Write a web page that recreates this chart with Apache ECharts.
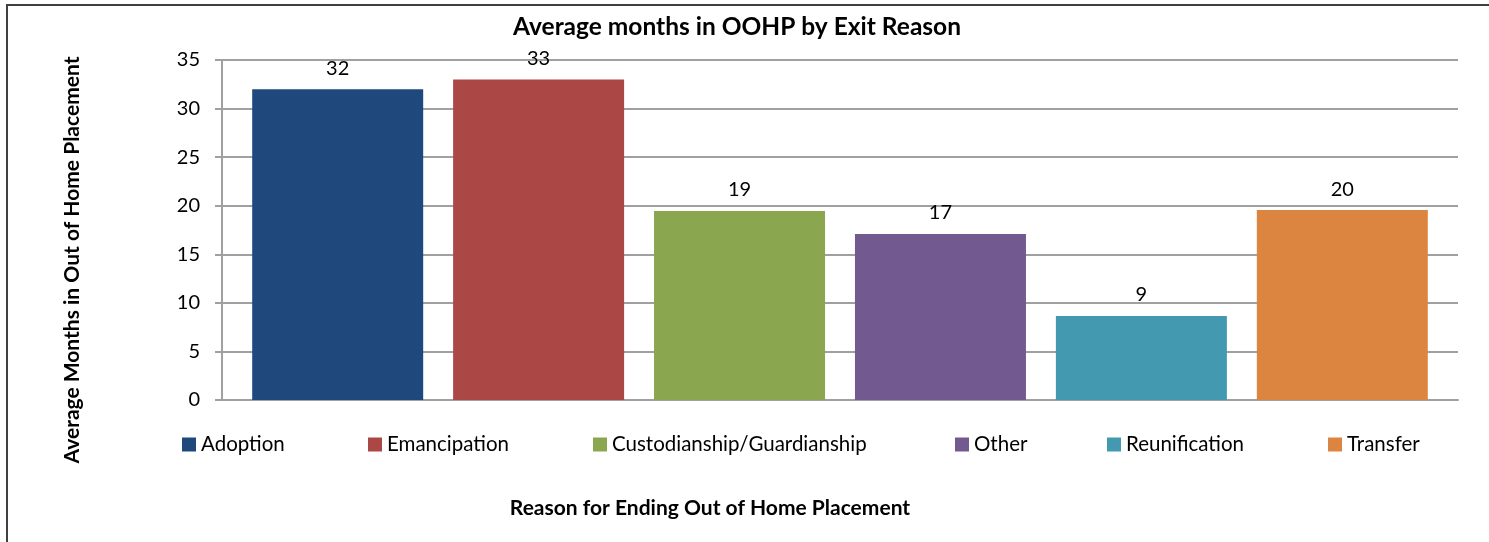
<!DOCTYPE html>
<html>
<head>
<meta charset="utf-8">
<script src="https://cdn.jsdelivr.net/npm/echarts@6/dist/echarts.min.js"></script>
<style>
html,body{margin:0;padding:0;background:#fff;}
#chart{width:1489px;height:542px;}
</style>
</head>
<body>
<div id="chart"></div>
<script>
var categories = ['Adoption', 'Emancipation', 'Custodianship/Guardianship', 'Other', 'Reunification', 'Transfer'];
var values = [32.0, 33.0, 19.46, 17.1, 8.65, 19.55];
var colors = ['#1F497D', '#AB4745', '#8AA64F', '#72598F', '#4399B0', '#DC8540'];
var yTicks = [0, 5, 10, 15, 20, 25, 30, 35];
var titleText = 'Average months in OOHP by Exit Reason';
var yTitle = 'Average Months in Out of Home Placement';
var xTitle = 'Reason for Ending Out of Home Placement';

var FONT = 'Lato, "Open Sans", sans-serif';
var legendLefts = [182, 368, 593, 955, 1107, 1328];

var chart = echarts.init(document.getElementById('chart'), null, {renderer: 'canvas'});

var series = categories.map(function (name, i) {
  return {
    name: name,
    type: 'bar',
    data: [values[i]],
    barWidth: 171,
    barGap: '17.5%',
    itemStyle: {color: colors[i]},
    label: {
      show: true,
      position: 'top',
      distance: 11,
      color: '#000',
      fontFamily: FONT,
      fontSize: 20,
      formatter: function (p) { return String(Math.round(p.value)); }
    },
    emphasis: {disabled: true}
  };
});

var legends = categories.map(function (name, i) {
  return {
    data: [name],
    left: legendLefts[i],
    top: 434,
    padding: 0,
    icon: 'rect',
    itemWidth: 14,
    itemHeight: 14,
    selectedMode: false,
    textStyle: {color: '#000', fontFamily: FONT, fontSize: 20.5}
  };
});

chart.setOption({
  animation: false,
  backgroundColor: '#fff',
  title: [
    {
      text: titleText,
      left: 737,
      top: 15,
      textAlign: 'center',
      padding: 0,
      textStyle: {color: '#000', fontFamily: FONT, fontSize: 24.5, fontWeight: 'bold'}
    },
    {
      text: xTitle,
      left: 710,
      top: 498,
      textAlign: 'center',
      padding: 0,
      textStyle: {color: '#000', fontFamily: FONT, fontSize: 21, fontWeight: 'bold'}
    }
  ],
  legend: legends,
  grid: {left: 222, right: 31, top: 60, bottom: 142, containLabel: false},
  xAxis: {
    type: 'category',
    data: [''],
    axisLabel: {show: false},
    axisTick: {show: false},
    axisLine: {show: true, lineStyle: {color: '#a0a0a0', width: 2}}
  },
  yAxis: {
    type: 'value',
    min: yTicks[0],
    max: yTicks[yTicks.length - 1],
    interval: 5,
    axisLine: {show: true, lineStyle: {color: '#a0a0a0', width: 2}},
    axisTick: {show: true, length: 7, lineStyle: {color: '#a0a0a0', width: 2}},
    axisLabel: {color: '#000', fontFamily: FONT, fontSize: 20, margin: 22},
    splitLine: {show: true, lineStyle: {color: '#a0a0a0', width: 2}}
  },
  graphic: [
    {
      type: 'rect',
      shape: {x: 7, y: 5, width: 1600, height: 700},
      style: {fill: 'none', stroke: '#404040', lineWidth: 2},
      silent: true
    },
    {
      type: 'text',
      x: 72,
      y: 260,
      rotation: Math.PI / 2,
      style: {
        text: yTitle,
        textAlign: 'center',
        textVerticalAlign: 'middle',
        fill: '#000',
        font: 'bold 21px ' + FONT
      },
      silent: true
    }
  ],
  series: series
});
</script>
</body>
</html>
